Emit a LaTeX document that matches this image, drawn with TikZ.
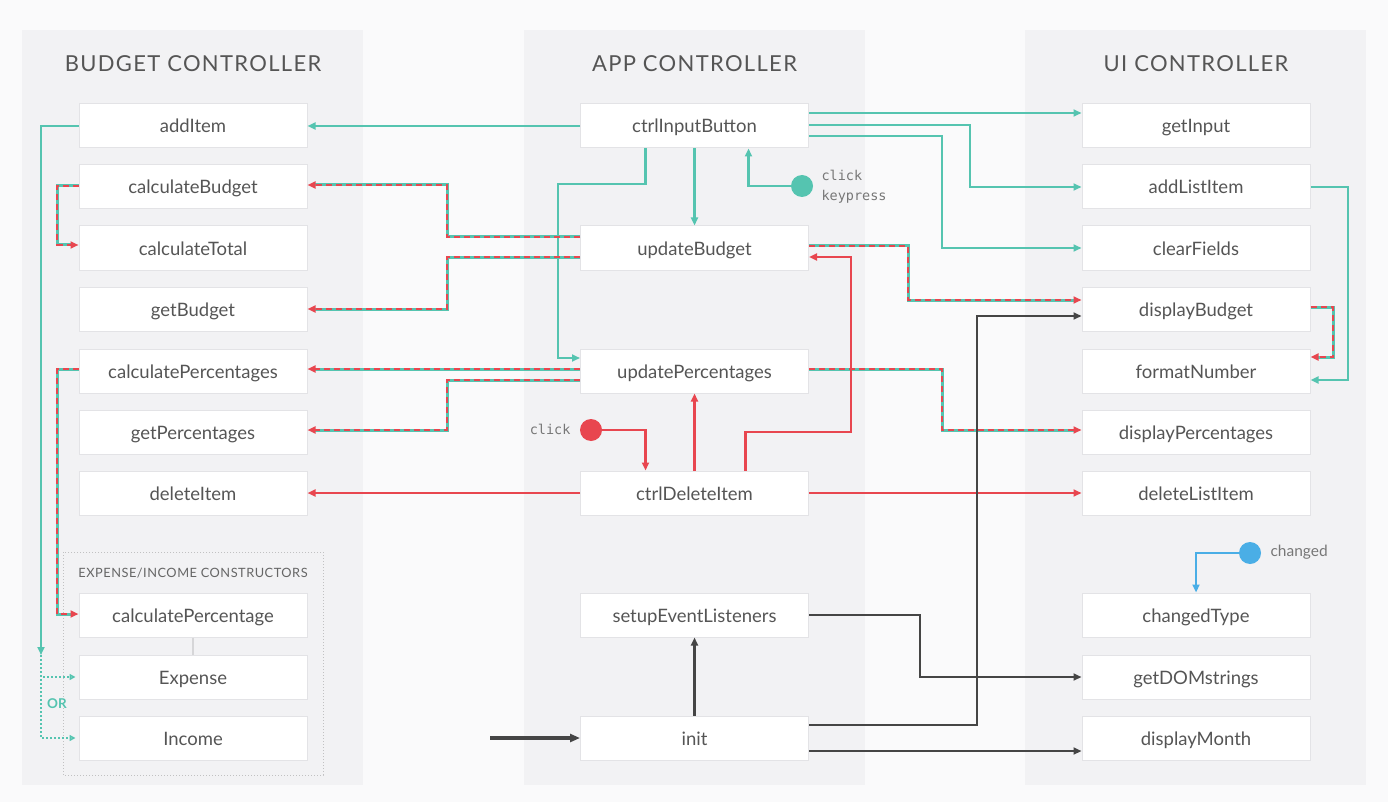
\documentclass[tikz,border=0pt]{standalone}
\usepackage{fontspec}
\setmainfont{Lato}
\newfontfamily\titlefont[LetterSpace=6]{Lato}
\newfontfamily\smallcapsfont[LetterSpace=4]{Lato}
\newfontfamily\codefont{DejaVu Sans Mono}
\usetikzlibrary{arrows.meta,calc}

\definecolor{bgc}{HTML}{FAFAFB}
\definecolor{panelc}{HTML}{F2F2F4}
\definecolor{boxline}{HTML}{E3E3E6}
\definecolor{txt}{HTML}{555555}
\definecolor{tealc}{HTML}{55C4B0}
\definecolor{redc}{HTML}{E8464F}
\definecolor{darkc}{HTML}{454545}
\definecolor{bluec}{HTML}{4AAEE6}
\definecolor{linkc}{HTML}{D6D6D8}

% teal line overlaid with red dashes (shared teal/red flows)
\newcommand\dualpath[1]{%
  \draw[tealc, line width=3pt, shorten >=6pt] #1;
  \draw[redc, line width=2.2pt, dash pattern=on 6pt off 4pt, -{Triangle[length=8pt,width=7pt]}] #1;}

\begin{document}
\begin{tikzpicture}[x=1pt,y=-1pt,
  fnbox/.style={draw=boxline, line width=1pt, fill=white, minimum width=228pt,
    minimum height=44pt, inner sep=0pt, text height=14pt, text depth=0pt,
    text=txt, font=\fontsize{18.5}{22}\selectfont},
  coltitle/.style={text=txt, font=\titlefont\fontsize{22}{26}\selectfont},
  evt/.style={circle, minimum size=22pt, inner sep=0pt},
  evtlabel/.style={text=txt!80, font=\codefont\fontsize{13.5}{20}\selectfont, anchor=west, align=left},
  tip/.style={-{Triangle[length=8pt,width=7pt]}},
  tl/.style={tealc, line width=2.2pt},
  tarr/.style={tl, tip},
  tdot/.style={tealc, line width=2pt, dotted, -{Triangle[length=6pt,width=6pt,open]}},
  rarr/.style={redc, line width=2.2pt, tip},
  darr/.style={darkc, line width=2.2pt, tip},
  barr/.style={bluec, line width=2.2pt, tip}]

% background and column panels
\fill[bgc] (0,0) rectangle (1388,802);
\useasboundingbox (0,0) rectangle (1388,802);
\fill[panelc] (22,30) rectangle (363,785);
\fill[panelc] (524,30) rectangle (865,785);
\fill[panelc] (1025,30) rectangle (1366,785);

% column titles
\node[coltitle] (tbud) at (193,64) {BUDGET CONTROLLER};
\node[coltitle] (tapp) at (694.5,64) {APP CONTROLLER};
\node[coltitle] (tui) at (1196,64) {UI CONTROLLER};

% constructors group
\draw[linkc!90!black, line width=1pt, dotted] (63,552) rectangle (323,775);
\node[text=txt!90, font=\smallcapsfont\fontsize{12.8}{15}\selectfont] (cons) at (193,573) {EXPENSE/INCOME CONSTRUCTORS};

% budget controller
\node[fnbox] (ai) at (193,126) {addItem};
\node[fnbox] (cb) at (193,187) {calculateBudget};
\node[fnbox] (ct) at (193,248) {calculateTotal};
\node[fnbox] (gb) at (193,309) {getBudget};
\node[fnbox] (cps) at (193,371) {calculatePercentages};
\node[fnbox] (gp) at (193,432) {getPercentages};
\node[fnbox] (di) at (193,493) {deleteItem};
\node[fnbox] (cp1) at (193,615) {calculatePercentage};
\node[fnbox] (ex) at (193,677) {Expense};
\node[fnbox] (inc) at (193,738) {Income};

% app controller
\node[fnbox] (cib) at (694.5,126) {ctrlInputButton};
\node[fnbox] (ub) at (694.5,248) {updateBudget};
\node[fnbox] (up) at (694.5,371) {updatePercentages};
\node[fnbox] (cdi) at (694.5,493) {ctrlDeleteItem};
\node[fnbox] (sel) at (694.5,615) {setupEventListeners};
\node[fnbox] (ini) at (694.5,738) {init};

% ui controller
\node[fnbox] (gi) at (1196,126) {getInput};
\node[fnbox] (ali) at (1196,187) {addListItem};
\node[fnbox] (cf) at (1196,248) {clearFields};
\node[fnbox] (db) at (1196,309) {displayBudget};
\node[fnbox] (fn) at (1196,371) {formatNumber};
\node[fnbox] (dp) at (1196,432) {displayPercentages};
\node[fnbox] (dli) at (1196,493) {deleteListItem};
\node[fnbox] (chg) at (1196,615) {changedType};
\node[fnbox] (gds) at (1196,677) {getDOMstrings};
\node[fnbox] (dm) at (1196,738) {displayMonth};

\draw[linkc, line width=1.5pt] (cp1.south) -- (ex.north);

% events
\node[evt, fill=tealc] (ekey) at (802,186) {};
\node[evtlabel] (ekeyl) at (818,187) {click\\keypress};
\node[evt, fill=redc] (eclk) at (591,430) {};
\node[evtlabel, anchor=east] (eclkl) at (574,429) {click};
\node[evt, fill=bluec] (echg) at (1250,553) {};
\node[text=txt!80, font=\fontsize{15.5}{18}\selectfont, anchor=west] (echgl) at (1267,552) {changed};

% teal flows (input)
\draw[tarr] (cib.west) -- (ai.east);
\coordinate (orsplit) at (41,655);
\draw[tarr] (ai.west) -| (orsplit);
\draw[tdot] (orsplit) |- ($(ex.west)+(-3,0)$);
\draw[tdot] (orsplit) |- ($(inc.west)+(-3,0)$);
\node[text=tealc, font=\bfseries\fontsize{13.5}{16}\selectfont] (orl) at (57,704) {OR};
\draw[tarr] ($(cib.south)+(-49,0)$) -- (645.5,184) -- (558,184) |- ($(up.west)+(0,-13)$);
\draw[tarr] (cib.south) -- (ub.north);
\draw[tarr] (ekey.west) -| ($(cib.south)+(54,0)$);
\draw[tarr] ($(cib.east)+(0,-13)$) -- ($(gi.west)+(0,-13)$);
\draw[tarr] ($(cib.east)+(0,-1)$) -- (970,125) |- (ali.west);
\draw[tarr] ($(cib.east)+(0,10)$) -- (942,136) |- (cf.west);
\draw[tarr] (ali.east) -- (1348,187) |- ($(fn.east)+(0,9)$);

% shared update flows
\dualpath{($(ub.west)+(0,-11)$) -- (447,237) |- ($(cb.east)+(0,-2)$)}
\dualpath{($(ub.west)+(0,9)$) -- (447,257) |- (gb.east)}
\dualpath{($(cb.west)+(0,-1)$) -- (57,186) |- ($(ct.west)+(0,-3)$)}
\dualpath{($(up.west)+(0,-2)$) -- ($(cps.east)+(0,-2)$)}
\dualpath{($(up.west)+(0,9)$) -- (447,380) |- ($(gp.east)+(0,-2)$)}
\dualpath{($(cps.west)+(0,-2)$) -- (57,369) |- ($(cp1.west)+(0,-1)$)}
\dualpath{($(ub.east)+(0,-2)$) -- (908,246) |- ($(db.west)+(0,-9)$)}
\dualpath{($(up.east)+(0,-2)$) -- (942,369) |- ($(dp.west)+(0,-2)$)}
\dualpath{($(db.east)+(0,-2)$) -- (1333,307) |- ($(fn.east)+(0,-14)$)}

% red flows (delete)
\draw[rarr] (cdi.west) -- (di.east);
\draw[rarr] (cdi.east) -- (dli.west);
\draw[rarr] (cdi.north) -- (up.south);
\draw[rarr] ($(cdi.north)+(51,0)$) -- (745.5,432) -- (851,432) |- ($(ub.east)+(0,9)$);
\draw[rarr] (eclk.east) -| ($(cdi.north)+(-49,0)$);

% dark flows (init)
\coordinate (start) at (490,738);
\draw[darkc, line width=3.5pt, -{Triangle[length=10pt,width=8pt]}] (start) -- (ini.west);
\draw[darr] (ini.north) -- (sel.south);
\draw[darr] (sel.east) -- (920,615) |- (gds.west);
\draw[darr] ($(ini.east)+(0,-13)$) -- (977,725) |- ($(db.west)+(0,7)$);
\draw[darr] ($(ini.east)+(0,13)$) -- ($(dm.west)+(0,13)$);

% blue flow (type change)
\draw[barr] (echg.west) -| (chg.north);
\end{tikzpicture}
\end{document}
